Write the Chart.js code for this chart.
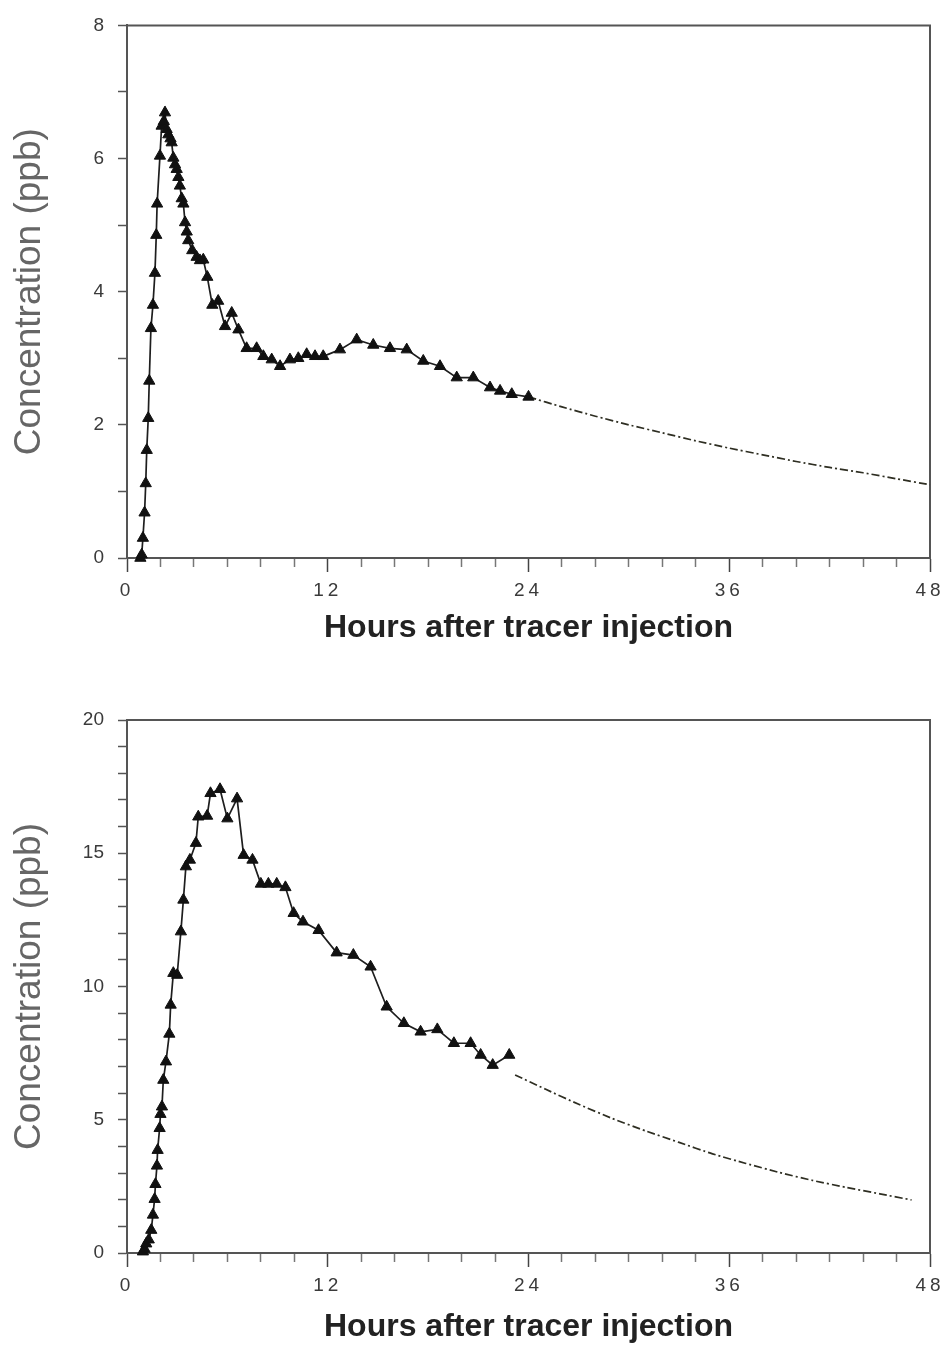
<!DOCTYPE html>
<html>
<head>
<meta charset="utf-8">
<script src="https://cdn.jsdelivr.net/npm/chart.js@4.4.1/dist/chart.umd.min.js"></script>
<style>
  html, body { margin: 0; padding: 0; background: #ffffff; }
  body { width: 944px; height: 1346px; position: relative; overflow: hidden; }
  .box { position: absolute; left: 0; width: 944px; }
  #b1 { top: 0; height: 660px; }
  #b2 { top: 680px; height: 666px; }
</style>
</head>
<body>
<div class="box" id="b1"><canvas id="c1" width="944" height="660"></canvas></div>
<div class="box" id="b2"><canvas id="c2" width="944" height="666"></canvas></div>
<script>
// ---------- Data ----------
// Top panel: observed concentrations (triangles)
const topHours = [0.80, 0.88, 0.95, 1.05, 1.12, 1.18, 1.27, 1.33, 1.43, 1.55, 1.67, 1.75, 1.80, 1.97, 2.07, 2.20, 2.27, 2.37, 2.47, 2.60, 2.67, 2.77, 2.87, 2.97, 3.07, 3.16, 3.27, 3.37, 3.47, 3.57, 3.66, 3.90, 4.16, 4.36, 4.56, 4.80, 5.10, 5.45, 5.86, 6.26, 6.66, 7.15, 7.75, 8.15, 8.65, 9.15, 9.74, 10.24, 10.74, 11.24, 11.73, 12.73, 13.73, 14.72, 15.72, 16.72, 17.71, 18.71, 19.71, 20.70, 21.70, 22.30, 23.00, 24.00];
const topConc  = [0.00, 0.05, 0.30, 0.68, 1.12, 1.62, 2.10, 2.66, 3.45, 3.80, 4.28, 4.85, 5.32, 6.04, 6.49, 6.56, 6.69, 6.44, 6.36, 6.30, 6.24, 6.01, 5.91, 5.84, 5.72, 5.59, 5.40, 5.32, 5.04, 4.90, 4.77, 4.62, 4.52, 4.47, 4.48, 4.22, 3.80, 3.86, 3.48, 3.68, 3.43, 3.15, 3.15, 3.03, 2.98, 2.88, 2.98, 3.00, 3.06, 3.03, 3.03, 3.13, 3.28, 3.20, 3.15, 3.13, 2.96, 2.88, 2.71, 2.71, 2.56, 2.51, 2.46, 2.42];
// Top panel: extrapolated tail (dash-dot line)
const topFitHours = [24, 26, 28, 30, 32, 34, 36, 38, 40, 42, 44, 46, 48];
const topFitConc  = [2.42, 2.27, 2.13, 2.00, 1.88, 1.76, 1.65, 1.55, 1.45, 1.36, 1.28, 1.19, 1.10];

// Bottom panel: observed concentrations (triangles)
const botHours = [0.95, 1.05, 1.15, 1.30, 1.45, 1.55, 1.65, 1.70, 1.79, 1.83, 1.95, 2.00, 2.09, 2.17, 2.33, 2.53, 2.61, 2.77, 3.00, 3.22, 3.37, 3.52, 3.76, 4.12, 4.26, 4.79, 4.99, 5.56, 6.00, 6.58, 6.97, 7.50, 8.00, 8.45, 8.95, 9.47, 9.96, 10.52, 11.45, 12.53, 13.53, 14.56, 15.52, 16.55, 17.55, 18.55, 19.54, 20.54, 21.14, 21.86, 22.85];
const botConc  = [0.05, 0.15, 0.35, 0.50, 0.86, 1.43, 2.02, 2.58, 3.27, 3.86, 4.68, 5.21, 5.49, 6.49, 7.18, 8.22, 9.31, 10.50, 10.43, 12.06, 13.25, 14.50, 14.75, 15.38, 16.37, 16.40, 17.25, 17.40, 16.30, 17.05, 14.93, 14.75, 13.85, 13.85, 13.85, 13.72, 12.75, 12.43, 12.11, 11.27, 11.18, 10.74, 9.24, 8.62, 8.30, 8.39, 7.87, 7.87, 7.43, 7.05, 7.43];
// Bottom panel: extrapolated tail (dash-dot line)
const botFitHours = [23.2, 25, 27, 29, 31, 33, 35, 37, 39, 41, 43, 45, 46.9];
const botFitConc  = [6.68, 6.15, 5.58, 5.05, 4.58, 4.15, 3.72, 3.36, 3.02, 2.72, 2.46, 2.22, 1.99];

// Axis ticks / labels
const xMin = 0, xMax = 48, xStep = 2, xLabelEvery = 12;
const topYMax = 8, topYStep = 1, topYLabelEvery = 2;
const botYMax = 20, botYStep = 1, botYLabelEvery = 5;
const xTitle = 'Hours after tracer injection';
const yTitle = 'Concentration (ppb)';

// ---------- Helpers ----------
const toXY = (xs, ys) => xs.map((x, i) => ({ x: x, y: ys[i] }));
const AXIS = '#555555';

const frameBox = {
  id: 'frameBox',
  beforeDatasetsDraw(chart) {
    const { ctx, chartArea: a } = chart;
    ctx.save();
    ctx.strokeStyle = AXIS;
    ctx.lineWidth = 2;
    ctx.beginPath();
    ctx.moveTo(a.left, a.top);
    ctx.lineTo(a.right, a.top);
    ctx.lineTo(a.right, a.bottom);
    ctx.stroke();
    ctx.restore();
  }
};

const spacedXLabels = {
  id: 'spacedXLabels',
  beforeDraw(chart) {
    const s = chart.scales.x;
    if (s && !s._spaced) {
      const orig = s.drawLabels.bind(s);
      s.drawLabels = function (area) {
        const c = this.ctx;
        c.save();
        c.letterSpacing = '4px';
        orig(area);
        c.restore();
      };
      s._spaced = true;
    }
  }
};

function makeChart(canvasId, obsX, obsY, fitX, fitY, yMax, yStep, yLabelEvery, padTop, xScaleHeight, xTitlePadBottom) {
  return new Chart(document.getElementById(canvasId), {
    type: 'line',
    data: {
      datasets: [
        {
          data: toXY(obsX, obsY),
          borderColor: '#1e1e1e',
          borderWidth: 1.7,
          pointStyle: 'triangle',
          pointRadius: 6.5,
          pointBackgroundColor: '#111111',
          pointBorderColor: '#111111',
          pointBorderWidth: 1,
          tension: 0,
          clip: false
        },
        {
          data: toXY(fitX, fitY),
          borderColor: '#2e2e22',
          borderWidth: 1.7,
          borderDash: [8, 3, 2, 3],
          pointRadius: 0,
          tension: 0.2,
          clip: false
        }
      ]
    },
    options: {
      responsive: false,
      animation: false,
      events: [],
      layout: { padding: { top: padTop, right: 14, left: 0, bottom: 0 } },
      plugins: { legend: { display: false }, tooltip: { enabled: false }, title: { display: false } },
      scales: {
        x: {
          type: 'linear',
          min: xMin, max: xMax,
          afterFit(scale) { scale.height = xScaleHeight; scale.paddingRight = 0; scale.paddingLeft = 0; },
          border: { display: true, color: AXIS, width: 2 },
          grid: {
            display: true,
            drawOnChartArea: false,
            drawTicks: true,
            tickLength: 14,
            tickColor: (ctx) => (ctx.tick && ctx.tick.value % xLabelEvery === 0) ? '#444444' : '#777777',
            tickWidth: 1.5,
            tickBorderDash: (ctx) => (ctx.tick && ctx.tick.value % xLabelEvery === 0) ? [] : [8, 40]
          },
          ticks: {
            stepSize: xStep,
            autoSkip: false,
            maxRotation: 0,
            padding: 7,
            color: '#3a3a3a',
            font: { family: '"Liberation Sans", Arial, sans-serif', size: 19 },
            callback: (v) => (v % xLabelEvery === 0 ? String(v) : '')
          },
          title: {
            display: true,
            text: xTitle,
            color: '#222222',
            font: { family: '"Liberation Sans", Arial, sans-serif', size: 32, weight: 'bold', lineHeight: 1 },
            padding: { top: 0, bottom: xTitlePadBottom }
          }
        },
        y: {
          type: 'linear',
          min: 0, max: yMax,
          afterFit(scale) { scale.width = 127; },
          border: { display: true, color: AXIS, width: 2 },
          grid: {
            display: true,
            drawOnChartArea: false,
            drawTicks: true,
            tickLength: 9,
            tickColor: '#555555',
            tickWidth: 1.5
          },
          ticks: {
            stepSize: yStep,
            autoSkip: false,
            padding: 14,
            color: '#3a3a3a',
            font: { family: '"Liberation Sans", Arial, sans-serif', size: 19 },
            callback: (v) => (v % yLabelEvery === 0 ? String(v) : '')
          },
          title: {
            display: true,
            text: yTitle,
            color: '#666666',
            font: { family: '"Liberation Sans", Arial, sans-serif', size: 37, lineHeight: 1 },
            padding: { top: 11, bottom: 0 }
          }
        }
      }
    },
    plugins: [frameBox, spacedXLabels]
  });
}

makeChart('c1', topHours, topConc, topFitHours, topFitConc, topYMax, topYStep, topYLabelEvery, 22, 102, 16);
makeChart('c2', botHours, botConc, botFitHours, botFitConc, botYMax, botYStep, botYLabelEvery, 40, 93, 3);
</script>
</body>
</html>
